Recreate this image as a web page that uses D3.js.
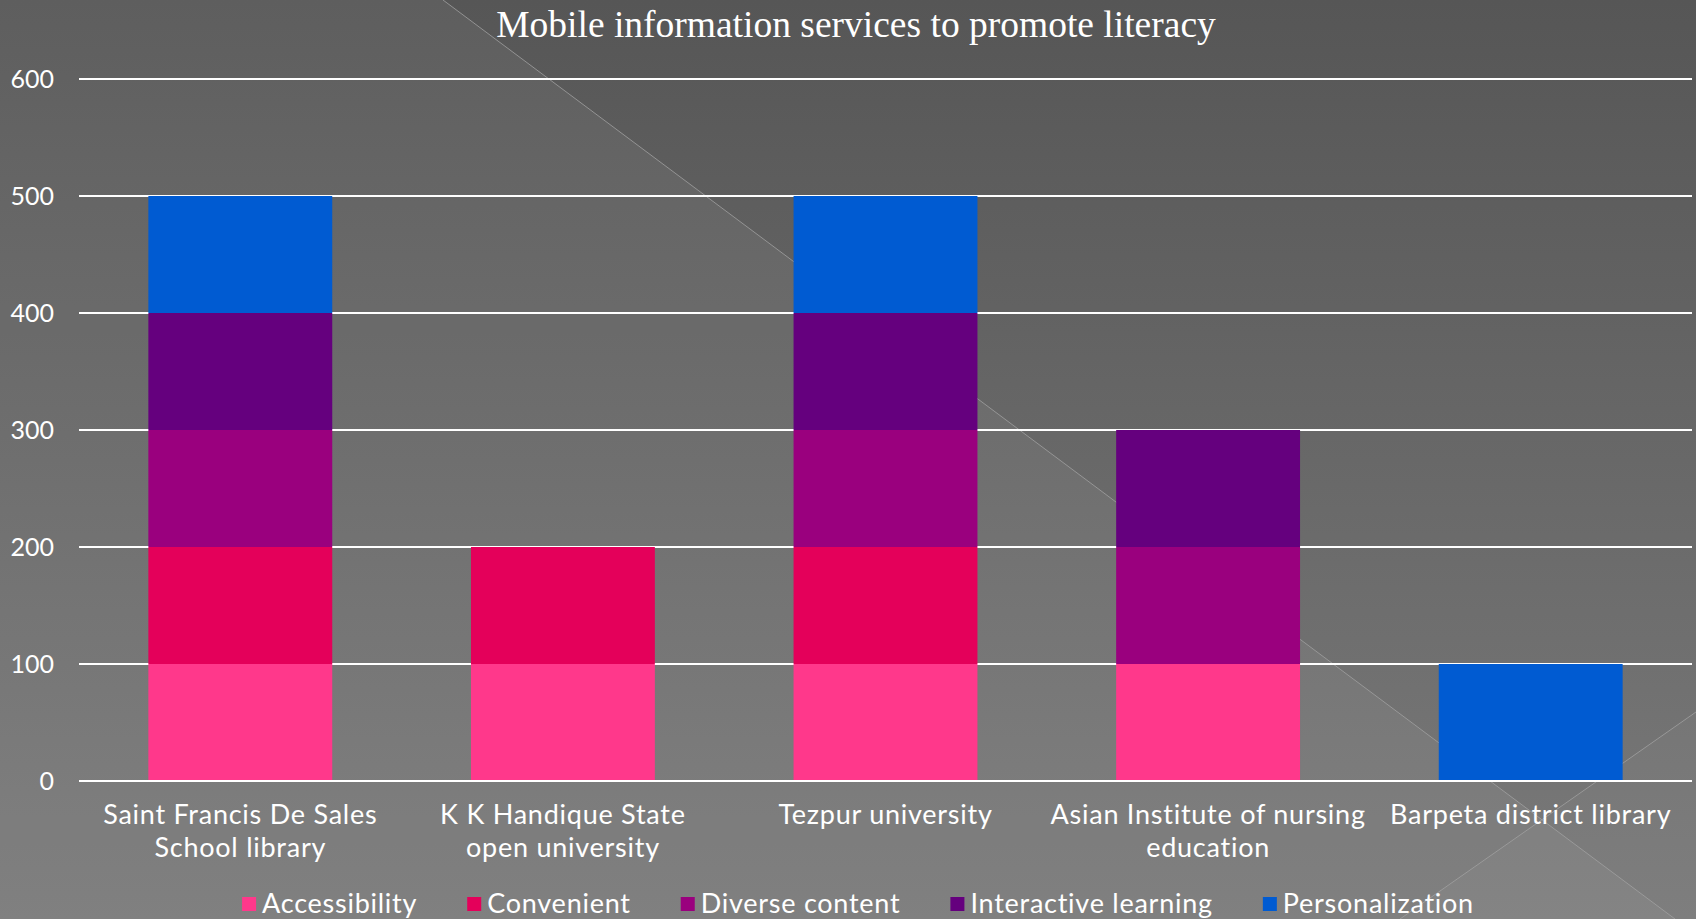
<!DOCTYPE html>
<html>
<head>
<meta charset="utf-8">
<script src="https://cdn.jsdelivr.net/npm/d3@7"></script>
<style>
  html, body { margin: 0; padding: 0; background: #666; }
  svg { display: block; }
</style>
</head>
<body>
<script>
// Chart data
const categories = [
  ["Saint Francis De Sales", "School library"],
  ["K K Handique State", "open university"],
  ["Tezpur university"],
  ["Asian Institute of nursing", "education"],
  ["Barpeta district library"]
];
const seriesNames = ["Accessibility", "Convenient", "Diverse content", "Interactive learning", "Personalization"];
const accessibility = [100, 100, 100, 100, 0];
const convenient = [100, 100, 100, 0, 0];
const diverseContent = [100, 0, 100, 100, 0];
const interactiveLearning = [100, 0, 100, 100, 0];
const personalization = [100, 0, 100, 0, 100];
const yTicks = [0, 100, 200, 300, 400, 500, 600];
const colors = ["#ff388b", "#e4005a", "#9a007e", "#65007e", "#005bd2"];

const width = 1696;
const height = 919;
const marginTop = 79;
const marginRight = 4;
const marginBottom = 138;
const marginLeft = 79;
const labelFont = "Lato, 'Open Sans', sans-serif";

// build rows for the stack
const seriesValues = [accessibility, convenient, diverseContent, interactiveLearning, personalization];
const rows = categories.map((c, i) => {
  const r = { key: i };
  seriesNames.forEach((s, j) => r[s] = seriesValues[j][i]);
  return r;
});
const stacked = d3.stack().keys(seriesNames)(rows);

const x = d3.scaleBand()
    .domain(d3.range(categories.length))
    .range([marginLeft, width - marginRight])
    .paddingInner(0.43)
    .paddingOuter(0.215);

const y = d3.scaleLinear()
    .domain([0, 600])
    .range([height - marginBottom, marginTop]);

const color = d3.scaleOrdinal().domain(seriesNames).range(colors);

const svg = d3.select("body").append("svg")
    .attr("width", width)
    .attr("height", height)
    .attr("viewBox", [0, 0, width, height]);

// background
const defs = svg.append("defs");
const grad = defs.append("linearGradient")
    .attr("id", "bg")
    .attr("x1", 0).attr("y1", 0).attr("x2", 0).attr("y2", 1);
grad.append("stop").attr("offset", 0).attr("stop-color", "#565656");
grad.append("stop").attr("offset", 1).attr("stop-color", "#7a7a7a");

svg.append("rect")
    .attr("width", width)
    .attr("height", height)
    .attr("fill", "url(#bg)");

// lighter triangle left of the diagonal
svg.append("path")
    .attr("d", `M0,0 L443,0 L1675,${height} L0,${height} Z`)
    .attr("fill", "#fff")
    .attr("fill-opacity", 0.05);
svg.append("path")
    .attr("d", `M1400,${height} L1696,712 L1696,${height} Z`)
    .attr("fill", "#fff")
    .attr("fill-opacity", 0.03);

svg.append("g")
    .attr("stroke", "#a0a0a0")
    .attr("stroke-width", 1)
    .attr("stroke-opacity", 0.8)
  .selectAll("line")
  .data([[443, 0, 1675, height], [1400, height, 1696, 712]])
  .join("line")
    .attr("x1", d => d[0]).attr("y1", d => d[1])
    .attr("x2", d => d[2]).attr("y2", d => d[3]);

// gridlines
svg.append("g")
  .selectAll("line")
  .data(yTicks.filter(d => d > 0))
  .join("line")
    .attr("x1", marginLeft)
    .attr("x2", width - marginRight)
    .attr("y1", d => y(d))
    .attr("y2", d => y(d))
    .attr("stroke", "#fff")
    .attr("stroke-width", 2);

// bars
svg.append("g")
  .selectAll("g")
  .data(stacked)
  .join("g")
    .attr("fill", d => color(d.key))
  .selectAll("rect")
  .data(d => d.filter(p => p[1] > p[0]))
  .join("rect")
    .attr("x", d => x(d.data.key))
    .attr("y", d => y(d[1]))
    .attr("height", d => y(d[0]) - y(d[1]))
    .attr("width", x.bandwidth());

// baseline
svg.append("line")
    .attr("x1", marginLeft)
    .attr("x2", width - marginRight)
    .attr("y1", y(0))
    .attr("y2", y(0))
    .attr("stroke", "#fff")
    .attr("stroke-width", 2);

// y axis labels
svg.append("g")
    .attr("font-family", labelFont)
    .attr("font-size", 25)
    .attr("fill", "#fff")
    .attr("text-anchor", "end")
  .selectAll("text")
  .data(yTicks)
  .join("text")
    .attr("x", 54)
    .attr("y", d => y(d))
    .attr("dy", "0.35em")
    .text(d => d);

// x axis labels
svg.append("g")
    .attr("font-family", labelFont)
    .attr("font-size", 27)
    .attr("letter-spacing", 0.75)
    .attr("fill", "#fff")
    .attr("text-anchor", "middle")
  .selectAll("text")
  .data(categories)
  .join("text")
    .attr("transform", (d, i) => `translate(${x(i) + x.bandwidth() / 2},0)`)
  .selectAll("tspan")
  .data(d => d)
  .join("tspan")
    .attr("x", 0)
    .attr("y", (d, i) => 815 + i * 33)
    .attr("dy", "0.35em")
    .text(d => d);

// title
svg.append("text")
    .attr("x", 856)
    .attr("y", 37)
    .attr("text-anchor", "middle")
    .attr("font-family", "'Liberation Serif', 'Times New Roman', serif")
    .attr("font-size", 37.5)
    .attr("fill", "#fff")
    .text("Mobile information services to promote literacy");

// legend
const legend = svg.append("g")
    .attr("font-family", labelFont)
    .attr("font-size", 27)
    .attr("letter-spacing", 0.75)
    .attr("fill", "#fff");

const items = legend.selectAll("g")
  .data(seriesNames)
  .join("g");
items.append("rect")
    .attr("y", 897)
    .attr("width", 14)
    .attr("height", 14)
    .attr("fill", d => color(d));
items.append("text")
    .attr("x", 20)
    .attr("y", 904)
    .attr("dy", "0.35em")
    .text(d => d);

let cursor = 0;
const gap = 50;
const offsets = [];
items.each(function () {
  offsets.push(cursor);
  cursor += this.getBBox().width + gap;
});
const total = cursor - gap;
const start = 858 - total / 2;
items.attr("transform", (d, i) => `translate(${start + offsets[i]},0)`);
</script>
</body>
</html>
